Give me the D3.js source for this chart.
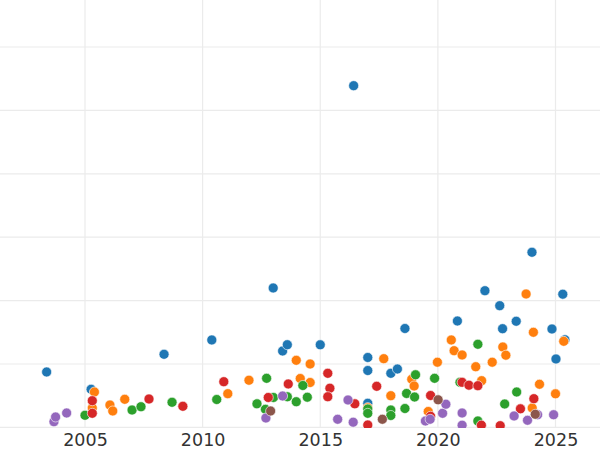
<!DOCTYPE html>
<html>
<head>
<meta charset="utf-8">
<script src="https://cdn.jsdelivr.net/npm/d3@7"></script>
<style>
  html, body { margin: 0; padding: 0; background: #ffffff; }
  svg { display: block; }
</style>
</head>
<body>
<svg id="chart" width="600" height="450"></svg>
<script>
// ---- data (year, value) per series ----
const xTicks = [2005, 2010, 2015, 2020, 2025];
const yGrid = [0, 10, 20, 30, 40, 50, 60];

const seriesBlue = [
  [2003.37, 8.74], [2005.26, 6.01], [2008.36, 11.53], [2010.39, 13.79], [2013.00, 21.99],
  [2013.40, 12.05], [2013.60, 13.04], [2015.00, 13.03], [2016.42, 53.9], [2017.02, 11.03],
  [2017.02, 8.97], [2017.02, 3.80], [2018.00, 8.53], [2018.28, 9.21], [2018.60, 15.6],
  [2020.83, 16.78], [2022.00, 21.56], [2022.63, 19.2], [2022.75, 15.57], [2023.33, 16.74],
  [2024.00, 27.62], [2024.85, 15.52], [2025.02, 10.79], [2025.31, 21.01], [2025.40, 13.82]
];
const seriesOrange = [
  [2005.40, 5.58], [2005.31, 3.06], [2006.06, 3.53], [2006.18, 2.59], [2006.69, 4.43],
  [2011.07, 5.32], [2011.97, 7.44], [2013.98, 10.58], [2014.57, 10.0], [2014.15, 7.71],
  [2014.57, 7.08], [2017.70, 10.84], [2018.00, 5.0], [2018.89, 7.59], [2018.99, 6.53],
  [2019.59, 2.51], [2019.98, 10.28], [2020.57, 13.79], [2020.69, 12.10], [2021.03, 11.42],
  [2021.61, 9.57], [2021.86, 7.37], [2022.31, 10.28], [2022.76, 12.68], [2022.89, 11.39],
  [2023.75, 21.04], [2024.06, 15.0], [2024.32, 6.80], [2024.01, 3.06], [2025.00, 5.30],
  [2025.35, 13.58], [2017.02, 3.11]
];
const seriesGreen = [
  [2005.00, 1.91], [2007.00, 2.74], [2007.38, 3.26], [2008.70, 3.96], [2010.60, 4.40],
  [2012.31, 3.72], [2012.72, 7.74], [2012.67, 2.85], [2013.01, 4.72], [2013.60, 4.83],
  [2013.98, 4.05], [2014.26, 6.61], [2014.45, 4.76], [2017.02, 2.90], [2017.02, 2.22],
  [2018.00, 2.74], [2018.00, 1.88], [2018.60, 2.98], [2018.67, 5.35], [2019.01, 4.79],
  [2019.05, 8.30], [2019.86, 7.74], [2020.94, 7.11], [2021.70, 13.11], [2021.70, 1.01],
  [2022.84, 3.69], [2023.35, 5.58]
];
const seriesRed = [
  [2005.31, 4.21], [2005.31, 2.22], [2007.72, 4.48], [2009.16, 3.33], [2010.90, 7.21],
  [2012.79, 4.72], [2013.64, 6.85], [2015.32, 8.53], [2015.41, 6.18], [2015.32, 4.84],
  [2016.47, 3.72], [2017.02, 0.38], [2017.40, 6.48], [2019.69, 5.03], [2019.69, 1.75],
  [2021.03, 7.11], [2021.32, 6.66], [2021.70, 6.58], [2021.85, 0.35], [2022.65, 0.27],
  [2023.51, 2.93], [2024.08, 4.53]
];
const seriesPurple = [
  [2003.68, 0.90], [2003.75, 1.64], [2004.22, 2.27], [2012.69, 1.48], [2013.40, 4.95],
  [2015.74, 1.28], [2016.18, 4.32], [2016.40, 0.82], [2019.47, 1.01], [2019.67, 1.28],
  [2020.20, 2.22], [2020.34, 3.66], [2021.03, 2.27], [2021.03, 0.35], [2023.24, 1.80],
  [2023.81, 1.12], [2024.24, 1.99], [2024.92, 2.00]
];
const seriesBrown = [
  [2012.89, 2.59], [2017.64, 1.28], [2020.01, 4.35], [2024.14, 2.07]
];

const seriesList = [
  { name: "blue",   color: "#1f77b4", data: seriesBlue },
  { name: "orange", color: "#ff7f0e", data: seriesOrange },
  { name: "green",  color: "#2ca02c", data: seriesGreen },
  { name: "red",    color: "#d62728", data: seriesRed },
  { name: "purple", color: "#9467bd", data: seriesPurple },
  { name: "brown",  color: "#8c564b", data: seriesBrown }
];

// ---- layout ----
const W = 600, plotBottom = 428;
const x = d3.scaleLinear().domain([2005, 2025]).range([85, 555.5]);
const y = d3.scaleLinear().domain([0, 60]).range([427.4, 47]);

const svg = d3.select("#chart");

svg.append("defs").append("clipPath").attr("id", "plotclip")
  .append("rect").attr("x", 0).attr("y", 0).attr("width", W).attr("height", plotBottom);

const grid = svg.append("g").attr("class", "grid");
grid.selectAll("line.h").data(yGrid).join("line")
  .attr("class", "h")
  .attr("x1", 0).attr("x2", W)
  .attr("y1", d => y(d)).attr("y2", d => y(d))
  .attr("stroke", "#ebebeb").attr("stroke-width", 1.2);
grid.selectAll("line.v").data(xTicks).join("line")
  .attr("class", "v")
  .attr("x1", d => x(d)).attr("x2", d => x(d))
  .attr("y1", 0).attr("y2", plotBottom)
  .attr("stroke", "#ebebeb").attr("stroke-width", 1.2);

// x axis labels via d3 axis
const xAxis = d3.axisBottom(x).tickValues(xTicks).tickFormat(d3.format("d")).tickSize(0).tickPadding(6);
const axG = svg.append("g").attr("transform", `translate(0,${plotBottom})`).call(xAxis);
axG.select(".domain").remove();
axG.selectAll("text")
  .attr("font-family", "DejaVu Sans, sans-serif")
  .attr("font-size", 17.5)
  .attr("fill", "#333333");

// points
const pts = svg.append("g").attr("clip-path", "url(#plotclip)");
seriesList.forEach(s => {
  pts.append("g").selectAll("circle").data(s.data).join("circle")
    .attr("cx", d => x(d[0]))
    .attr("cy", d => y(d[1]))
    .attr("r", 5)
    .attr("fill", s.color)
    .attr("stroke", "#ffffff")
    .attr("stroke-width", 0.6);
});
</script>
</body>
</html>
